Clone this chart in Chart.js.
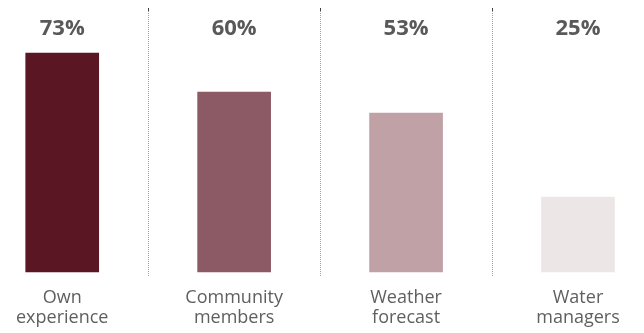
<!DOCTYPE html>
<html>
<head>
<meta charset="utf-8">
<script src="https://cdn.jsdelivr.net/npm/chart.js@4/dist/chart.umd.min.js"></script>
<style>
  html, body { margin: 0; padding: 0; background: #fff; }
  #wrap { width: 644px; height: 333px; }
</style>
</head>
<body>
<div id="wrap"><canvas id="chart"></canvas></div>
<script>
// data
const categories = [["Own", "experience"], ["Community", "members"], ["Weather", "forecast"], ["Water", "managers"]];
const shares = [73, 60, 53, 25];
const barColors = ["#5a1623", "#8b5a64", "#bfa1a6", "#ede6e6"];

// percentage labels above the bars + dotted separators between groups
const topLabels = {
  id: "topLabels",
  afterDatasetsDraw(chart) {
    const ctx = chart.ctx;
    const x = chart.scales.x;
    const area = chart.chartArea;
    ctx.save();
    // separators
    ctx.lineWidth = 1;
    for (let i = 0; i < shares.length - 1; i++) {
      const mid = Math.round((x.getPixelForValue(i) + x.getPixelForValue(i + 1)) / 2) + 0.5;
      ctx.strokeStyle = "#a0a0a0";
      ctx.setLineDash([1, 1]);
      ctx.beginPath();
      ctx.moveTo(mid, area.top - 23);
      ctx.lineTo(mid, area.bottom + 5);
      ctx.stroke();
      ctx.setLineDash([]);
      ctx.strokeStyle = "#404040";
      ctx.beginPath();
      ctx.moveTo(mid, area.top - 24);
      ctx.lineTo(mid, area.top - 21);
      ctx.stroke();
    }
    // labels
    ctx.fillStyle = "#595959";
    ctx.font = "bold 22px 'Open Sans'";
    ctx.textAlign = "center";
    ctx.textBaseline = "middle";
    shares.forEach((v, i) => {
      ctx.fillText(v + "%", x.getPixelForValue(i), area.top - 3);
    });
    ctx.restore();
  },
};

new Chart(document.getElementById("chart"), {
  type: "bar",
  data: {
    labels: categories,
    datasets: [
      {
        data: shares,
        backgroundColor: barColors,
        barThickness: 73,
        clip: false,
      },
    ],
  },
  options: {
    responsive: true,
    maintainAspectRatio: false,
    animation: false,
    layout: { padding: { left: 61, right: 66, top: 32, bottom: 0 } },
    plugins: {
      legend: { display: false },
      tooltip: { enabled: false },
    },
    scales: {
      x: {
        offset: false,
        grid: { display: false, drawTicks: false },
        border: { display: false },
        afterFit(scale) {
          scale.height = 61;
        },
        ticks: {
          color: "#5f5f5f",
          padding: 16,
          maxRotation: 0,
          autoSkip: false,
          font: { family: "'Open Sans'", size: 18, lineHeight: 1.1 },
        },
      },
      y: {
        display: false,
        min: 0,
        max: 80,
      },
    },
  },
  plugins: [topLabels],
});
</script>
</body>
</html>
